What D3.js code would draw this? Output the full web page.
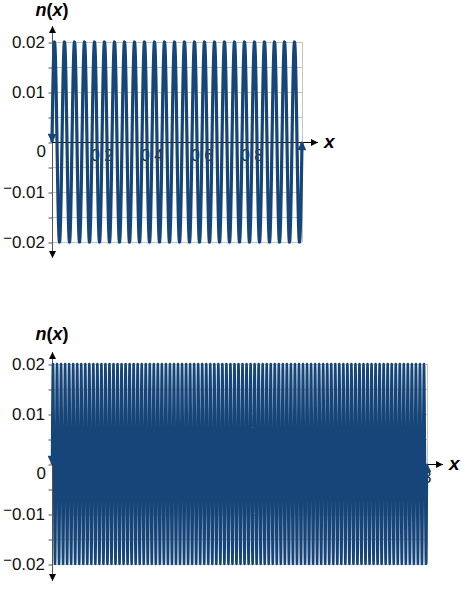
<!DOCTYPE html>
<html>
<head>
<meta charset="utf-8">
<script src="https://cdn.jsdelivr.net/npm/d3@7"></script>
<style>
  html, body { margin: 0; padding: 0; background: #fff; }
  svg { display: block; font-family: "Liberation Sans", Arial, sans-serif; }
</style>
</head>
<body>
<svg id="canvas" width="465" height="589"></svg>
<script>
// two graphs of the same kind of signal n(x) = A sin(k*pi*x)
let panelNames = ['short window', 'long window'];
let xMax = [1, 3];
let waveCoef = [50, 62];          // k in sin(k*pi*x)
let amplitude = [0.02, 0.02];
let yTicks = [-0.02, -0.015, -0.01, -0.005, 0, 0.005, 0.01, 0.015, 0.02];
let yLabelValues = [0.02, 0.01, -0.01, -0.02];
let xLabelValues = [[0.2, 0.4, 0.6, 0.8], [1, 2, 3]];

// layout of each panel on the page
let frames = [
  {left: 52, right: 302, top: 42, bottom: 242, axisTop: 22, axisBottom: 262, arrowX: 322, titleY: 16, stroke: 3.2},
  {left: 52, right: 427, top: 364, bottom: 564, axisTop: 348, axisBottom: 585, arrowX: 447, titleY: 340, stroke: 2.5}
];

let blue = '#164679';
let svg = d3.select('#canvas');

let defs = svg.append('defs');
defs.append('marker')
  .attr('id', 'axisArrow')
  .attr('viewBox', '0 0 10 10')
  .attr('refX', 10).attr('refY', 5)
  .attr('markerWidth', 8).attr('markerHeight', 7)
  .attr('markerUnits', 'userSpaceOnUse')
  .attr('orient', 'auto-start-reverse')
  .append('path').attr('d', 'M0,0 L10,5 L0,10 Z').attr('fill', '#000');
defs.append('marker')
  .attr('id', 'curveArrow')
  .attr('viewBox', '0 0 10 10')
  .attr('refX', 9).attr('refY', 5)
  .attr('markerWidth', 13).attr('markerHeight', 9)
  .attr('markerUnits', 'userSpaceOnUse')
  .attr('orient', 'auto-start-reverse')
  .append('path').attr('d', 'M0,0 L10,5 L0,10 Z').attr('fill', blue);

let fmt = v => d3.format('.2f')(v);

panelNames.forEach((name, i) => {
  let f = frames[i];
  let x = d3.scaleLinear().domain([0, xMax[i]]).range([f.left, f.right]);
  let y = d3.scaleLinear().domain([-0.02, 0.02]).range([f.bottom, f.top]);
  let g = svg.append('g').attr('class', 'panel').attr('data-name', name);

  // grid
  g.append('g').selectAll('line')
    .data(yTicks)
    .enter()
    .append('line')
    .attr('x1', x(0)).attr('x2', x(xMax[i]))
    .attr('y1', d => y(d) + 0.5).attr('y2', d => y(d) + 0.5)
    .attr('stroke', '#c4c4c4').attr('stroke-width', 1);
  g.append('line')
    .attr('x1', x(xMax[i]) + 0.5).attr('x2', x(xMax[i]) + 0.5)
    .attr('y1', y(0.02)).attr('y2', y(-0.02))
    .attr('stroke', '#c4c4c4').attr('stroke-width', 1);

  // x tick labels (they end up under the curve)
  g.append('g').selectAll('text')
    .data(xLabelValues[i])
    .enter()
    .append('text')
    .attr('x', d => x(d))
    .attr('y', y(0) + 19)
    .attr('text-anchor', 'middle')
    .attr('font-size', 16)
    .attr('fill', '#222')
    .text(d => d);

  // y ticks
  g.append('g')
    .attr('transform', 'translate(' + (x(0) + 0.5) + ',0.5)')
    .call(d3.axisLeft(y).tickValues(yTicks).tickSize(4).tickFormat(''))
    .call(a => a.select('.domain').remove())
    .call(a => a.selectAll('line').attr('stroke', '#555'));

  let yl = g.append('g').selectAll('text')
    .data(yLabelValues)
    .enter()
    .append('text')
    .attr('x', x(0) - 7)
    .attr('y', d => y(d) + 6)
    .attr('text-anchor', 'end')
    .attr('font-size', 17)
    .attr('fill', '#111');
  yl.filter(d => d < 0).append('tspan').attr('dy', -5).attr('font-size', 15).text('\u2212');
  yl.append('tspan').attr('dy', d => d < 0 ? 5 : 0).text(d => fmt(Math.abs(d)));

  g.append('text')
    .attr('x', x(0) - 6)
    .attr('y', y(0) + 15)
    .attr('text-anchor', 'end')
    .attr('font-size', 17)
    .attr('fill', '#111')
    .text('0');

  // axes
  g.append('line')
    .attr('x1', x(0) + 0.5).attr('x2', x(0) + 0.5)
    .attr('y1', f.axisTop + 4).attr('y2', f.axisBottom - 4)
    .attr('stroke', '#555').attr('stroke-width', 1)
    .attr('marker-start', 'url(#axisArrow)')
    .attr('marker-end', 'url(#axisArrow)');
  g.append('line')
    .attr('x1', x(0)).attr('x2', f.arrowX - 4)
    .attr('y1', y(0) + 0.5).attr('y2', y(0) + 0.5)
    .attr('stroke', '#000').attr('stroke-width', 1)
    .attr('marker-end', 'url(#axisArrow)');

  // curve
  let n = Math.round(waveCoef[i] * xMax[i] * 24);
  let pts = d3.range(n + 1).map(j => {
    let xv = xMax[i] * j / n;
    return [xv, amplitude[i] * Math.sin(waveCoef[i] * Math.PI * xv)];
  });
  g.append('path')
    .datum(pts)
    .attr('d', d3.line().x(d => x(d[0])).y(d => y(d[1])))
    .attr('fill', 'none')
    .attr('stroke', blue)
    .attr('stroke-width', f.stroke)
    .attr('stroke-linejoin', 'round')
    .attr('marker-start', 'url(#curveArrow)')
    .attr('marker-end', 'url(#curveArrow)');

  // axis titles
  let title = g.append('text')
    .attr('x', x(0))
    .attr('y', f.titleY)
    .attr('text-anchor', 'middle')
    .attr('font-size', 18)
    .attr('font-weight', 'bold')
    .attr('font-style', 'italic');
  title.append('tspan').text('n');
  title.append('tspan').attr('font-style', 'normal').text('(');
  title.append('tspan').text('x');
  title.append('tspan').attr('font-style', 'normal').text(')');

  g.append('text')
    .attr('x', f.arrowX + 2)
    .attr('y', y(0) + 6)
    .attr('font-size', 19)
    .attr('font-weight', 'bold')
    .attr('font-style', 'italic')
    .text('x');
});
</script>
</body>
</html>
